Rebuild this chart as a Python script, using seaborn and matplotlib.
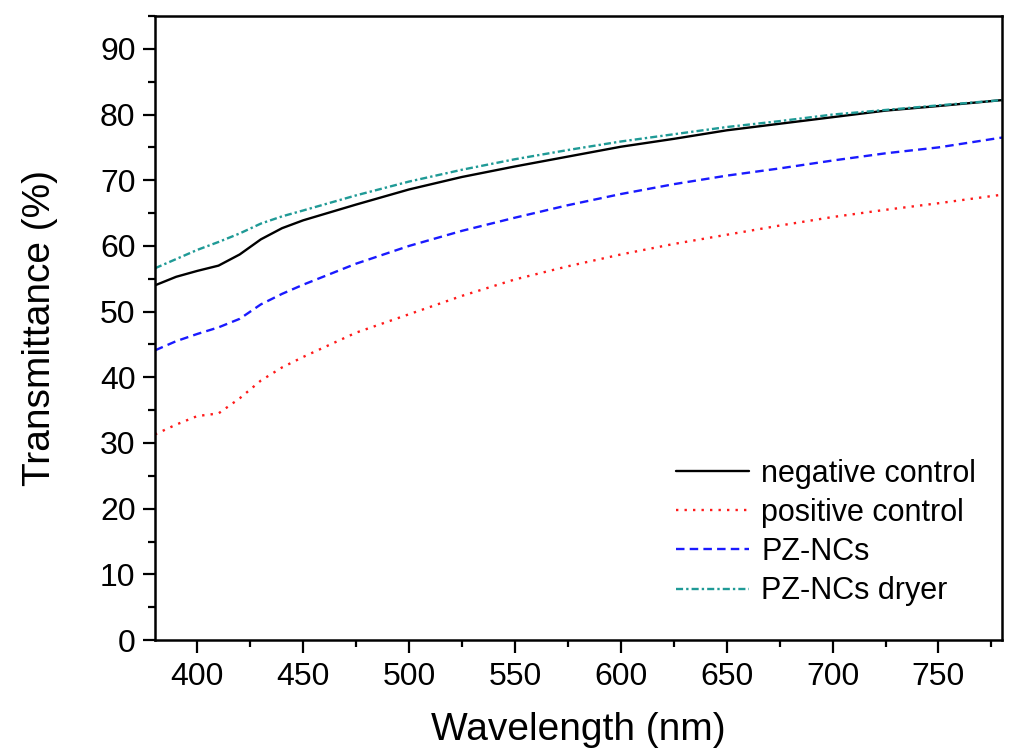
import matplotlib
matplotlib.use("Agg")
import matplotlib.pyplot as plt
import seaborn as sns
import pandas as pd
from matplotlib.ticker import MultipleLocator

# wavelength grid (nm) and transmittance (%)
wavelength = [380, 390, 400, 410, 420, 430, 440, 450, 475, 500, 525,
              550, 575, 600, 625, 650, 675, 700, 725, 750, 780]
negative_control = [54.0, 55.3, 56.2, 57.0, 58.7, 61.0, 62.7, 63.9, 66.3, 68.6, 70.5,
                    72.1, 73.6, 75.1, 76.3, 77.6, 78.6, 79.6, 80.6, 81.3, 82.2]
positive_control = [31.3, 32.8, 34.1, 34.5, 36.8, 39.5, 41.5, 43.1, 46.8, 49.6, 52.4,
                    54.9, 56.9, 58.7, 60.3, 61.7, 63.1, 64.4, 65.5, 66.5, 67.8]
pz_ncs = [44.1, 45.5, 46.6, 47.6, 48.9, 51.1, 52.7, 54.1, 57.3, 60.0, 62.3,
          64.3, 66.2, 67.9, 69.4, 70.7, 71.8, 73.0, 74.1, 75.0, 76.5]
pz_ncs_dryer = [56.6, 58.0, 59.4, 60.6, 61.9, 63.4, 64.5, 65.4, 67.7, 69.8, 71.6,
                73.2, 74.6, 75.9, 77.0, 78.1, 79.0, 80.0, 80.7, 81.4, 82.2]

series = {
    "negative control": negative_control,
    "positive control": positive_control,
    "PZ-NCs": pz_ncs,
    "PZ-NCs dryer": pz_ncs_dryer,
}

df = pd.concat(
    [pd.DataFrame({"wavelength": wavelength, "T": vals, "sample": name})
     for name, vals in series.items()],
    ignore_index=True,
)

colors = {"negative control": "black", "positive control": "#ff1a1a",
          "PZ-NCs": "#1a1aff", "PZ-NCs dryer": "#1f9a96"}
dashes = {"negative control": "", "positive control": (1, 2.6),
          "PZ-NCs": (3.6, 2.2), "PZ-NCs dryer": (3, 1.3, 1, 1.3)}

sns.set_style("white")
plt.rcParams["font.family"] = ["Liberation Sans", "DejaVu Sans"]
plt.rcParams["text.color"] = "black"
plt.rcParams["axes.labelcolor"] = "black"
plt.rcParams["xtick.color"] = "black"
plt.rcParams["ytick.color"] = "black"

fig = plt.figure(figsize=(10.11, 7.56), dpi=100)
ax = fig.add_axes([0.1533, 0.1534, 0.8378, 0.8254])

sns.lineplot(data=df, x="wavelength", y="T", hue="sample", style="sample",
             palette=colors, dashes=dashes, linewidth=1.7, ax=ax, legend=True)

ax.set_xlim(380, 780)
ax.set_ylim(0, 95)
ax.xaxis.set_major_locator(MultipleLocator(50))
ax.xaxis.set_minor_locator(MultipleLocator(25))
ax.yaxis.set_major_locator(MultipleLocator(10))
ax.yaxis.set_minor_locator(MultipleLocator(5))
ax.tick_params(which="major", direction="out", length=9, width=1.6,
               labelsize=23, pad=5, bottom=True, left=True)
ax.tick_params(which="minor", direction="out", length=5, width=1.6,
               bottom=True, left=True)
ax.tick_params(axis="x", pad=7)
for s in ax.spines.values():
    s.set_linewidth(1.8)
    s.set_color("black")

ax.set_xlabel("Wavelength (nm)", fontsize=28, labelpad=14)
ax.set_ylabel("Transmittance (%)", fontsize=28, labelpad=30)

handles, labels = ax.get_legend_handles_labels()
ax.legend(handles, labels, loc="upper left", bbox_to_anchor=(0.597, 0.315),
          frameon=False, fontsize=22, handlelength=2.4, handletextpad=0.4,
          labelspacing=0.3, borderpad=0, labelcolor="black")

fig.savefig("out.png", dpi=100)
